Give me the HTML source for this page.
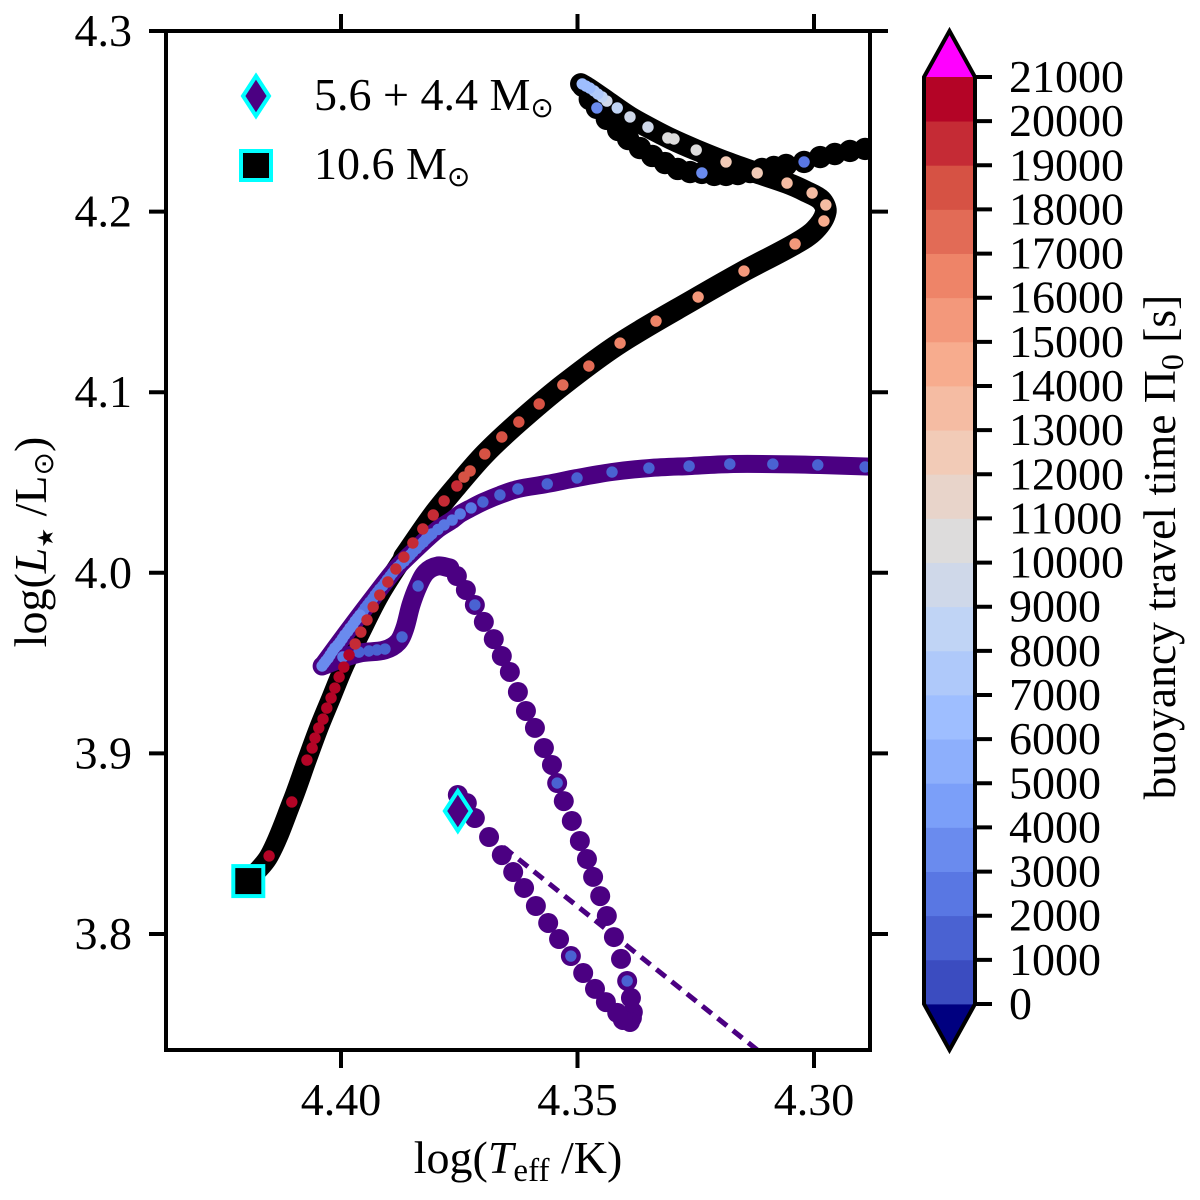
<!DOCTYPE html>
<html lang="en">
<head>
<meta charset="utf-8">
<title>HR diagram with buoyancy travel time</title>
<style>
html,body{margin:0;padding:0;background:#fff;}
svg{display:block;}
text{font-family:"Liberation Serif","DejaVu Serif",serif;fill:#000;}
</style>
</head>
<body>
<svg id="chart" xmlns="http://www.w3.org/2000/svg" width="1200" height="1200" viewBox="0 0 1200 1200">
  <rect width="1200" height="1200" fill="#fff"/>
  <defs><clipPath id="plot-clip"><rect x="166" y="31" width="704" height="1019"/></clipPath></defs>
  <g id="plot-marks" clip-path="url(#plot-clip)"></g>
  <g id="axis-layer"></g>
  <g id="cbar-layer"></g>

  <text x="518" y="1173" text-anchor="middle" font-size="46">log(<tspan font-style="italic">T</tspan><tspan font-size="33" dy="8">eff</tspan><tspan dy="-8"> /K)</tspan></text>
  <text transform="translate(46,542) rotate(-90)" text-anchor="middle" font-size="46">log(<tspan font-style="italic">L</tspan><tspan font-size="22" dy="7" style="font-family:'DejaVu Sans',sans-serif">★</tspan><tspan dy="-7"> /L</tspan><tspan font-size="28" dy="7" style="font-family:'DejaVu Sans',sans-serif">⊙</tspan><tspan dy="-7">)</tspan></text>
  <text transform="translate(1175,547) rotate(-90)" text-anchor="middle" font-size="45.6">buoyancy travel time Π<tspan font-size="32" dy="8">0</tspan><tspan dy="-8"> [s]</tspan></text>

  <g>
    <polygon points="256,76 269,96 256,116 243,96" fill="#4b0082" stroke="#00ffff" stroke-width="4"/>
    <text x="314" y="110" font-size="46">5.6 + 4.4 M<tspan font-size="28" dy="7" style="font-family:'DejaVu Sans',sans-serif">⊙</tspan></text>
    <rect x="241" y="151" width="30" height="29" fill="#000" stroke="#00ffff" stroke-width="4"/>
    <text x="314" y="179" font-size="46">10.6 M<tspan font-size="28" dy="7" style="font-family:'DejaVu Sans',sans-serif">⊙</tspan></text>
  </g>
</svg>
<script>
// ---------- tick labels ----------
const xTicks = [4.40, 4.35, 4.30];
const xTickLabels = ['4.40', '4.35', '4.30'];
const yTicks = [4.3, 4.2, 4.1, 4.0, 3.9, 3.8];
const yTickLabels = ['4.3', '4.2', '4.1', '4.0', '3.9', '3.8'];
const cbarTicks = [0,1000,2000,3000,4000,5000,6000,7000,8000,9000,10000,11000,12000,13000,14000,15000,16000,17000,18000,19000,20000,21000];
const cbarLevels = [500,1500,2500,3500,4500,5500,6500,7500,8500,9500,10500,11500,12500,13500,14500,15500,16500,17500,18500,19500,20500];

// ---------- 10.6 Msun track ----------
const singleEarlyT = [4.4197,4.4152,4.4104,4.4072,4.4047,4.4021,4.3994,4.3958,4.3918,4.3867,4.3805,4.3755];
const singleEarlyL = [3.8293,3.8432,3.8731,3.8963,3.9141,3.9307,3.9478,3.9672,3.9877,4.0087,4.0320,4.0481];
const singleTrackT = [4.3867,4.3805,4.3755,4.3696,4.3624,4.3531,4.3410,4.3245,4.3148,4.3040,4.2998,4.2975,4.2985,4.3019,4.3057,4.3120,4.3186,4.3249,4.3302,4.3351,4.3389,4.3438,4.3478,4.3493];
const singleTrackL = [4.0087,4.0320,4.0481,4.0658,4.0835,4.1040,4.1272,4.1527,4.1671,4.1821,4.1898,4.1998,4.2064,4.2114,4.2158,4.2214,4.2275,4.2341,4.2402,4.2468,4.2524,4.2612,4.2684,4.2707];
const singleLateT = [4.3488,4.3474,4.3459,4.3438,4.3414,4.3393,4.3368,4.3342,4.3315,4.3288,4.3262,4.3237,4.3211,4.3186,4.3161,4.3135,4.3110,4.3085,4.3059,4.3021,4.2987,4.2956,4.2924,4.2892,4.2860];
const singleLateL = [4.2695,4.2623,4.2574,4.2513,4.2452,4.2402,4.2352,4.2308,4.2269,4.2236,4.2219,4.2214,4.2203,4.2203,4.2208,4.2219,4.2236,4.2247,4.2258,4.2275,4.2302,4.2319,4.2336,4.2347,4.2352];
const singlePiT = [4.4152,4.4104,4.4072,4.4061,4.4055,4.4047,4.4038,4.4030,4.4021,4.4013,4.4004,4.3994,4.3983,4.3970,4.3958,4.3945,4.3932,4.3918,4.3901,4.3884,4.3867,4.3848,4.3827,4.3805,4.3782,4.3755,4.3740,4.3727,4.3696,4.3660,4.3624,4.3581,4.3531,4.3476,4.3410,4.3334,4.3245,4.3148,4.3040,4.2979,4.2975,4.3004,4.3057,4.3120,4.3186,4.3249,4.3296,4.3309,4.3351,4.3389,4.3416,4.3438,4.3448,4.3457,4.3465,4.3474,4.3482,4.3490,4.3459,4.3237,4.3021];
const singlePiL = [3.8432,3.8731,3.8963,3.9030,3.9085,3.9141,3.9190,3.9251,3.9307,3.9362,3.9423,3.9478,3.9545,3.9606,3.9672,3.9739,3.9811,3.9877,3.9949,4.0021,4.0087,4.0165,4.0243,4.0320,4.0398,4.0481,4.0530,4.0564,4.0658,4.0752,4.0835,4.0935,4.1040,4.1145,4.1272,4.1394,4.1527,4.1671,4.1821,4.1948,4.2037,4.2103,4.2158,4.2214,4.2275,4.2341,4.2402,4.2408,4.2468,4.2524,4.2574,4.2612,4.2635,4.2651,4.2668,4.2684,4.2695,4.2707,4.2574,4.2214,4.2275];
const singlePiVal = [20500,20500,20500,20500,20500,20500,20500,20500,20500,20500,20500,20500,20500,19500,19500,19500,19500,19500,19500,19500,19500,19500,19500,19500,19500,19500,18500,18500,18500,18500,18500,18500,17500,17500,16500,16500,15500,15500,15500,14500,13500,13500,13500,12500,12500,10500,10500,10500,9500,9500,8500,9500,8500,7500,7500,6500,6500,6500,3500,3500,2500];

// ---------- 5.6 + 4.4 Msun track ----------
const binaryBandT = [4.2860,4.2987,4.3089,4.3178,4.3264,4.3349,4.3427,4.3501,4.3564,4.3626,4.3664,4.3700,4.3725,4.3748,4.3765,4.3797,4.3848,4.3886,4.3928,4.3981,4.4040];
const binaryBandL = [4.0586,4.0597,4.0602,4.0602,4.0591,4.0580,4.0558,4.0525,4.0492,4.0464,4.0431,4.0392,4.0359,4.0326,4.0292,4.0237,4.0115,4.0016,3.9877,3.9694,3.9484];
const binaryBendT = [4.4040,4.3996,4.3960,4.3907,4.3879,4.3865,4.3852,4.3837,4.3820,4.3795,4.3770];
const binaryBendL = [3.9484,3.9528,3.9556,3.9573,3.9617,3.9694,3.9822,3.9927,4.0004,4.0038,4.0027];
const binaryDotsT = [4.3755,4.3736,4.3717,4.3698,4.3677,4.3660,4.3643,4.3626,4.3609,4.3590,4.3571,4.3554,4.3543,4.3529,4.3512,4.3495,4.3480,4.3467,4.3452,4.3438,4.3423,4.3408,4.3395,4.3387,4.3383,4.3385,4.3389,4.3404,4.3416,4.3440,4.3463,4.3488,4.3514,4.3539,4.3562,4.3588,4.3613,4.3636,4.3660,4.3687,4.3717,4.3734,4.3753];
const binaryDotsL = [3.9982,3.9905,3.9822,3.9728,3.9633,3.9539,3.9451,3.9340,3.9235,3.9141,3.9030,3.8936,3.8836,3.8736,3.8626,3.8515,3.8415,3.8316,3.8210,3.8100,3.7983,3.7862,3.7740,3.7646,3.7568,3.7535,3.7513,3.7524,3.7563,3.7623,3.7696,3.7784,3.7878,3.7972,3.8061,3.8155,3.8255,3.8343,3.8437,3.8537,3.8642,3.8725,3.8770];
const binaryPiT = [4.2892,4.2992,4.3087,4.3178,4.3264,4.3349,4.3427,4.3501,4.3564,4.3626,4.3664,4.3700,4.3725,4.3748,4.3765,
  4.3782,4.3795,4.3808,4.3814,4.3820,4.3826,4.3833,4.3840,4.3848,4.3854,4.3860,4.3866,4.3873,4.3880,4.3886,4.3891,4.3896,4.3902,4.3907,4.3912,4.3918,4.3923,4.3928,4.3933,4.3939,4.3944,4.3949,4.3954,4.3960,4.3965,4.3970,4.3975,4.3981,4.3986,4.3992,4.3997,4.4002,4.4007,4.4013,4.4018,4.4023,4.4027,4.4032,4.4036,4.4040,
  4.3996,4.3962,4.3941,4.3924,4.3907,4.3871,4.3837,4.3717,4.3543,4.3395,4.3514];
const binaryPiL = [4.0586,4.0597,4.0602,4.0602,4.0591,4.0580,4.0558,4.0525,4.0492,4.0464,4.0431,4.0392,4.0359,4.0326,4.0292,
  4.0265,4.0240,4.0215,4.0201,4.0187,4.0170,4.0154,4.0135,4.0115,4.0098,4.0082,4.0065,4.0049,4.0032,4.0016,3.9999,3.9982,3.9963,3.9944,3.9927,3.9910,3.9893,3.9877,3.9857,3.9838,3.9821,3.9805,3.9785,3.9766,3.9749,3.9733,3.9713,3.9694,3.9675,3.9656,3.9636,3.9617,3.9600,3.9584,3.9565,3.9545,3.9528,3.9512,3.9498,3.9484,
  3.9534,3.9561,3.9567,3.9573,3.9578,3.9645,3.9927,3.9822,3.8836,3.7740,3.7878];
const binaryPiVal = [1500,1500,1500,1500,1500,1500,1500,1500,1500,1500,1500,1500,2500,2500,2500,
  2500,2500,2500,2500,2500,2500,2500,2500,2500,2500,2500,2500,2500,2500,2500,2500,2500,2500,2500,2500,2500,2500,2500,2500,2500,2500,2500,2500,3500,3500,3500,3500,3500,3500,3500,3500,3500,3500,3500,3500,3500,3500,3500,3500,3500,
  2500,1500,1500,1500,1500,1500,1500,1500,1500,1500,1500];

const dashedT = [4.3657, 4.3120];
const dashedL = [3.8482, 3.7358];
const binaryStartT = [4.3753];
const binaryStartL = [3.8681];
const singleStartT = [4.4196];
const singleStartL = [3.8293];

// ---------- axis functions ----------
function xPos(t) { return 341 + (4.40 - t) * 4730; }
function yPos(l) { return 31 + (4.3 - l) * 1806; }
function cbarY(v) { return 1004 - v * 927 / 21000; }

const NS = 'http://www.w3.org/2000/svg';
const anchors = ['#3b4cc0','#5977e3','#7b9ff9','#9ebeff','#c0d4f5','#dddcdc','#f2cbb7','#f7ac8e','#ee8468','#d65244','#b40426'];
function hexToRgb(h) { return [1,3,5].map(i => parseInt(h.substr(i,2),16)); }
function coolwarm(f) {
  const p = Math.min(Math.max(f,0),1) * 10;
  const i = Math.min(Math.floor(p),9);
  const a = hexToRgb(anchors[i]), b = hexToRgb(anchors[i+1]);
  const c = a.map((q,k) => Math.round(q + (b[k]-q)*(p-i)));
  return 'rgb(' + c.join(',') + ')';
}
function levelColor(v) {
  if (v < 0) return '#000080';
  if (v > 21000) return '#ff00ff';
  return coolwarm(Math.min(Math.floor(v/1000),20) / 20);
}
function mk(tag, attrs, parent) {
  const e = document.createElementNS(NS, tag);
  for (const k in attrs) e.setAttribute(k, attrs[k]);
  parent.appendChild(e);
  return e;
}
function smoothPath(ts, ls) {
  const pts = ts.map((t,i) => [xPos(t), yPos(ls[i])]);
  const n = pts.length;
  const dist = [];
  for (let i = 0; i < n-1; i++) dist.push(Math.hypot(pts[i+1][0]-pts[i][0], pts[i+1][1]-pts[i][1]) || 1);
  const tan = pts.map((p,i) => {
    const a = pts[Math.max(i-1,0)], b = pts[Math.min(i+1,n-1)];
    const len = (i>0?dist[i-1]:0) + (i<n-1?dist[i]:0);
    return [(b[0]-a[0])/len, (b[1]-a[1])/len];
  });
  let d = 'M' + pts[0][0].toFixed(1) + ' ' + pts[0][1].toFixed(1);
  for (let i = 0; i < n-1; i++) {
    const h = dist[i]/3;
    d += 'C' + (pts[i][0]+tan[i][0]*h).toFixed(1)+' '+(pts[i][1]+tan[i][1]*h).toFixed(1)+' '+(pts[i+1][0]-tan[i+1][0]*h).toFixed(1)+' '+(pts[i+1][1]-tan[i+1][1]*h).toFixed(1)+' '+pts[i+1][0].toFixed(1)+' '+pts[i+1][1].toFixed(1);
  }
  return d;
}

const marks = document.getElementById('plot-marks');
const axisLayer = document.getElementById('axis-layer');
const cbarLayer = document.getElementById('cbar-layer');

// ---------- series ----------
const singleEarly = mk('path', {d: smoothPath(singleEarlyT, singleEarlyL), fill:'none', stroke:'#000', 'stroke-width':19.5, 'stroke-linecap':'round', 'stroke-linejoin':'round'}, marks);



const singleLine = mk('path', {d: smoothPath(singleTrackT, singleTrackL), fill:'none', stroke:'#000', 'stroke-width':21.5, 'stroke-linecap':'round', 'stroke-linejoin':'round'}, marks);



singleLateT.forEach((t,i) => {
  const c = mk('circle', {cx:xPos(t), cy:yPos(singleLateL[i]), r:11.2, fill:'#000'}, marks);
  
  
});

const dashLine = mk('line', {x1:xPos(dashedT[0]), y1:yPos(dashedL[0]), x2:xPos(dashedT[1]), y2:yPos(dashedL[1]), stroke:'#4b0082', 'stroke-width':5, 'stroke-dasharray':'12 7.6'}, marks);



const bandLine = mk('path', {d: smoothPath(binaryBandT, binaryBandL), fill:'none', stroke:'#4b0082', 'stroke-width':18, 'stroke-linecap':'round', 'stroke-linejoin':'round'}, marks);



const bendLine = mk('path', {d: smoothPath(binaryBendT, binaryBendL), fill:'none', stroke:'#4b0082', 'stroke-width':19, 'stroke-linecap':'round', 'stroke-linejoin':'round'}, marks);



binaryDotsT.forEach((t,i) => {
  const c = mk('circle', {cx:xPos(t), cy:yPos(binaryDotsL[i]), r:10, fill:'#4b0082'}, marks);
  
  
});

binaryPiT.forEach((t,i) => {
  const c = mk('circle', {cx:xPos(t), cy:yPos(binaryPiL[i]), r:5.7, fill:levelColor(binaryPiVal[i])}, marks);
  
  
});

singlePiT.forEach((t,i) => {
  const c = mk('circle', {cx:xPos(t), cy:yPos(singlePiL[i]), r:5.7, fill:levelColor(singlePiVal[i])}, marks);
  
  
});

// start markers
const bx = xPos(binaryStartT[0]), by = yPos(binaryStartL[0]);
const diamond = mk('polygon', {points:[[bx,by-20],[bx+13,by],[bx,by+20],[bx-13,by]].map(p=>p.join(',')).join(' '), fill:'#4b0082', stroke:'#00ffff', 'stroke-width':4}, marks);



const sx = xPos(singleStartT[0]), sy = yPos(singleStartL[0]);
const square = mk('rect', {x:sx-15, y:sy-15, width:30, height:30, fill:'#000', stroke:'#00ffff', 'stroke-width':4}, marks);



// ---------- axes ----------
const frame = mk('rect', {x:166, y:31, width:704, height:1019, fill:'none', stroke:'#000', 'stroke-width':4}, axisLayer);



xTicks.forEach((t,i) => {
  const x = xPos(t);
  const b = mk('line', {x1:x, x2:x, y1:1050, y2:1068, stroke:'#000', 'stroke-width':4}, axisLayer);
  
  
  const u = mk('line', {x1:x, x2:x, y1:31, y2:14, stroke:'#000', 'stroke-width':4}, axisLayer);
  
  
  const l = mk('text', {x:x, y:1115, 'text-anchor':'middle', 'font-size':46}, axisLayer);
  
  
  l.textContent = xTickLabels[i];
});
yTicks.forEach((v,i) => {
  const y = yPos(v);
  const a = mk('line', {x1:149, x2:166, y1:y, y2:y, stroke:'#000', 'stroke-width':4}, axisLayer);
  
  
  const r = mk('line', {x1:870, x2:888, y1:y, y2:y, stroke:'#000', 'stroke-width':4}, axisLayer);
  
  
  const l = mk('text', {x:132, y:y+15, 'text-anchor':'end', 'font-size':46}, axisLayer);
  
  
  l.textContent = yTickLabels[i];
});

// ---------- colorbar ----------
const cTop = cbarY(21000), cBot = cbarY(0);
const over = mk('polygon', {points:'924,'+cTop+' 975,'+cTop+' 949.5,31', fill:levelColor(99999)}, cbarLayer);


const under = mk('polygon', {points:'924,'+cBot+' 975,'+cBot+' 949.5,1050', fill:levelColor(-1)}, cbarLayer);


cbarLevels.forEach(v => {
  const top = cbarY(v+500), bot = cbarY(v-500);
  const r = mk('rect', {x:924, y:top, width:51, height:bot-top+0.4, fill:levelColor(v)}, cbarLayer);
  
  
});
const outline = mk('polygon', {points:'924,'+cTop+' 949.5,31 975,'+cTop+' 975,'+cBot+' 949.5,1050 924,'+cBot, fill:'none', stroke:'#000', 'stroke-width':4}, cbarLayer);


cbarTicks.forEach(v => {
  const y = cbarY(v);
  const t = mk('line', {x1:975, x2:992, y1:y, y2:y, stroke:'#000', 'stroke-width':4}, cbarLayer);
  
  
  const l = mk('text', {x:1009, y:y+15, 'font-size':46}, cbarLayer);
  
  
  l.textContent = String(v);
});
</script>
</body>
</html>
